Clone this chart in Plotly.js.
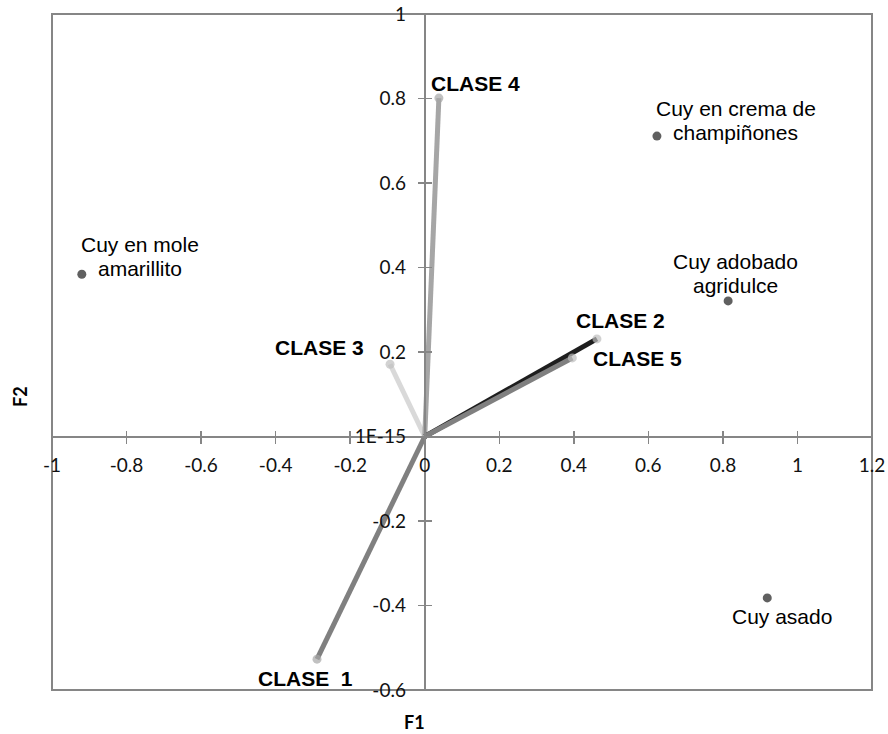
<!DOCTYPE html>
<html>
<head>
<meta charset="utf-8">
<script src="https://cdn.plot.ly/plotly-3.0.1.min.js"></script>
<style>html,body{margin:0;padding:0;background:#fff;}#chart{width:888px;height:734px;}</style>
</head>
<body>
<div id="chart"></div>
<script>
// ---- data ----
const classNames = ['CLASE  1', 'CLASE 2', 'CLASE 3', 'CLASE 4', 'CLASE 5'];
const classF1 = [-0.289, 0.462, -0.093, 0.038, 0.396];
const classF2 = [-0.527, 0.231, 0.171, 0.801, 0.186];

const productNames = ['Cuy en mole<br>amarillito', 'Cuy en crema de<br>champiñones', 'Cuy adobado<br>agridulce', 'Cuy asado'];
const productF1 = [-0.92, 0.623, 0.814, 0.919];
const productF2 = [0.384, 0.711, 0.321, -0.382];

const xTickVals = [-1, -0.8, -0.6, -0.4, -0.2, 0, 0.2, 0.4, 0.6, 0.8, 1, 1.2];
const xTickText = ['-1', '-0.8', '-0.6', '-0.4', '-0.2', '0', '0.2', '0.4', '0.6', '0.8', '1', '1.2'];
const yTickVals = [-0.6, -0.4, -0.2, 0, 0.2, 0.4, 0.6, 0.8, 1];
const yTickText = ['-0.6', '-0.4', '-0.2', '1E-15', '0.2', '0.4', '0.6', '0.8', '1'];

// ---- styles ----
const classLineColors = ['#808080', '#1e1e1e', '#d9d9d9', '#a6a6a6', '#808080'];
const classMarkerColors = ['#a6a6a6', '#bdbdbd', '#bfbfbf', '#a6a6a6', '#bdbdbd'];
const classLabelShift = [[-12, -19], [24, 18], [-71, 17], [37, 15], [65, -1]];
const productLabelShift = [[58, 18], [79, 16], [7, 27], [15, -19]];
const drawOrder = [0, 2, 3, 1, 4];

const xRange = [-1, 1.2];
const yRange = [-0.6, 1];
const axisGrey = '#868686';
const xPos = (0 - yRange[0]) / (yRange[1] - yRange[0]);
const yPos = (0 - xRange[0]) / (xRange[1] - xRange[0]);

const traces = [];
drawOrder.forEach(i => {
  traces.push({
    type: 'scatter', mode: 'lines+markers',
    x: [0, classF1[i]], y: [0, classF2[i]],
    line: {color: classLineColors[i], width: 5},
    marker: {size: [0, 9], color: classMarkerColors[i], line: {width: 0}},
    hoverinfo: 'skip', showlegend: false
  });
});
traces.push({
  type: 'scatter', mode: 'markers',
  x: productF1, y: productF2,
  marker: {size: 9, color: '#606060', line: {width: 0}},
  hoverinfo: 'skip', showlegend: false
});
// dummy trace to activate overlay axes (inside tick halves)
traces.push({
  type: 'scatter', mode: 'markers', x: [0], y: [0], xaxis: 'x2', yaxis: 'y2',
  marker: {opacity: 0}, hoverinfo: 'skip', showlegend: false
});

const annotations = [];
classNames.forEach((n, i) => {
  annotations.push({
    x: classF1[i], y: classF2[i], xref: 'x', yref: 'y', text: '<b>' + n.replace(/ /g, '&nbsp;') + '</b>',
    showarrow: false, xanchor: 'center', yanchor: 'middle',
    xshift: classLabelShift[i][0], yshift: classLabelShift[i][1],
    font: {family: 'Liberation Sans, Arial, sans-serif', size: 21, color: '#000'}
  });
});
productNames.forEach((n, i) => {
  const lines = n.split('<br>');
  const lh = 24;
  lines.forEach((ln, k) => {
    const off = ((lines.length - 1) / 2 - k) * lh;
    annotations.push({
      x: productF1[i], y: productF2[i], xref: 'x', yref: 'y', text: ln,
      showarrow: false, xanchor: 'center', yanchor: 'middle',
      xshift: productLabelShift[i][0], yshift: productLabelShift[i][1] + off,
      font: {family: 'Liberation Sans, Arial, sans-serif', size: 21, color: '#000'}
    });
  });
});
annotations.push({
  xref: 'paper', yref: 'paper', x: 0.4415, y: -0.048, text: '<b>F1</b>', showarrow: false,
  xanchor: 'center', yanchor: 'middle', font: {family: 'Lato, sans-serif', size: 18, color: '#000'}
});
annotations.push({
  xref: 'paper', yref: 'paper', x: -0.039, y: 0.4334, text: '<b>F2</b>', showarrow: false, textangle: -90,
  xanchor: 'center', yanchor: 'middle', font: {family: 'Lato, sans-serif', size: 18, color: '#000'}
});

const tickFont = {family: 'Lato, sans-serif', size: 19, color: '#111'};
const layout = {
  width: 888, height: 734,
  margin: {l: 52, r: 16, t: 14, b: 44},
  paper_bgcolor: '#fff', plot_bgcolor: '#fff',
  showlegend: false,
  xaxis: {
    range: xRange, anchor: 'free', position: xPos, tickmode: 'array',
    tickvals: xTickVals, ticktext: xTickText, ticks: 'outside', ticklen: 6, tickwidth: 1.5, tickcolor: axisGrey,
    showline: true, linecolor: axisGrey, linewidth: 2, showgrid: false, zeroline: false,
    tickfont: tickFont, automargin: false, fixedrange: true, ticklabelstandoff: 6
  },
  yaxis: {
    range: yRange, anchor: 'free', position: yPos, tickmode: 'array',
    tickvals: yTickVals, ticktext: yTickText, ticks: 'outside', ticklen: 6, tickwidth: 1.5, tickcolor: axisGrey,
    showline: true, linecolor: axisGrey, linewidth: 2, showgrid: false, zeroline: false,
    tickfont: tickFont, automargin: false, fixedrange: true, ticklabelstandoff: 8
  },
  xaxis2: {
    range: xRange, overlaying: 'x', anchor: 'free', position: xPos, tickmode: 'array',
    tickvals: xTickVals, ticks: 'inside', ticklen: 6, tickwidth: 1.5, tickcolor: axisGrey,
    showticklabels: false, showline: false, showgrid: false, zeroline: false, fixedrange: true
  },
  yaxis2: {
    range: yRange, overlaying: 'y', anchor: 'free', position: yPos, tickmode: 'array',
    tickvals: yTickVals, ticks: 'inside', ticklen: 6, tickwidth: 1.5, tickcolor: axisGrey,
    showticklabels: false, showline: false, showgrid: false, zeroline: false, fixedrange: true
  },
  shapes: [{
    type: 'rect', xref: 'paper', yref: 'paper', x0: 0, x1: 1, y0: 0, y1: 1,
    line: {color: axisGrey, width: 2}, layer: 'below'
  }],
  annotations: annotations
};

Plotly.newPlot('chart', traces, layout, {displayModeBar: false, staticPlot: true});
</script>
</body>
</html>
